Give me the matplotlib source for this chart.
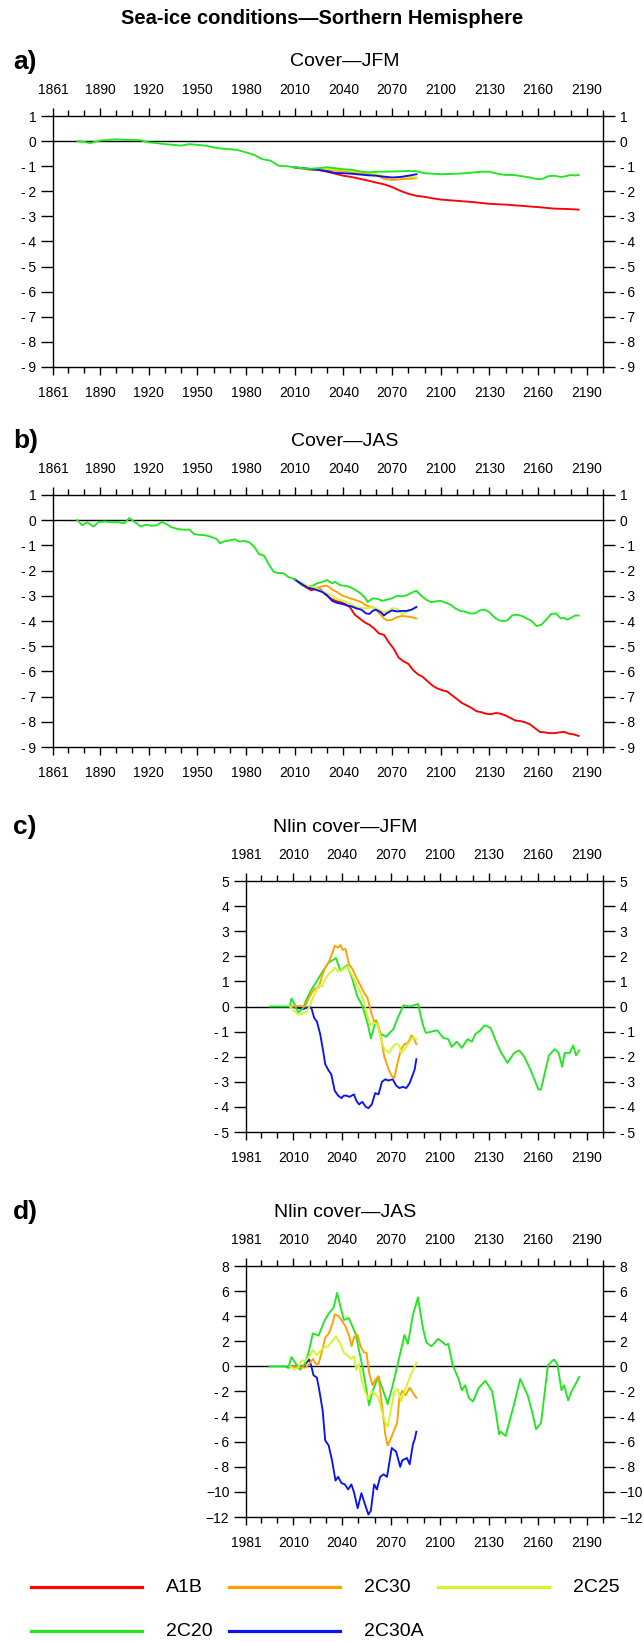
import matplotlib
matplotlib.use("Agg")
import matplotlib.pyplot as plt
from matplotlib.lines import Line2D
from matplotlib.ticker import FixedLocator

plt.rcParams['font.family'] = ['Liberation Sans', 'DejaVu Sans']

# ---------------- data ----------------
series_names = ["A1B", "2C30", "2C25", "2C20", "2C30A"]
series_colors = {"A1B": "#ff0000", "2C30": "#ffa000", "2C25": "#d4f52a",
                 "2C20": "#22e622", "2C30A": "#0a14f0"}

# Panel a: Cover - JFM
a_hist_years = [1876, 1880, 1884, 1890, 1895, 1900, 1905, 1910, 1915, 1920, 1925, 1930, 1935,
                1940, 1945, 1950, 1955, 1960, 1965, 1970, 1975, 1980, 1985, 1990, 1995, 2000,
                2005, 2010]
a_hist_vals = [0, -0.03, -0.08, 0.02, 0.05, 0.07, 0.05, 0.05, 0.03, -0.05, -0.08, -0.12, -0.15,
               -0.18, -0.12, -0.15, -0.18, -0.25, -0.3, -0.32, -0.36, -0.45, -0.55, -0.72, -0.78,
               -0.98, -1.0, -1.05]
a_2c20_years = [2010, 2015, 2020, 2025, 2030, 2035, 2040, 2045, 2050, 2055, 2060, 2065, 2070, 2075,
                2080, 2085, 2090, 2095, 2100, 2105, 2110, 2115, 2120, 2125, 2130, 2135, 2140, 2145,
                2150, 2155, 2160, 2163, 2166, 2170, 2174, 2177, 2180, 2183, 2185]
a_2c20_vals = [-1.05, -1.08, -1.1, -1.08, -1.04, -1.08, -1.12, -1.14, -1.2, -1.25, -1.22, -1.22,
               -1.21, -1.2, -1.19, -1.2, -1.28, -1.3, -1.32, -1.31, -1.3, -1.28, -1.25, -1.22,
               -1.22, -1.3, -1.35, -1.35, -1.4, -1.45, -1.52, -1.5, -1.4, -1.38, -1.43, -1.4,
               -1.35, -1.37, -1.35]
a_a1b_years = [2010, 2015, 2020, 2025, 2030, 2035, 2040, 2045, 2050, 2055, 2060, 2065, 2070, 2075,
               2080, 2085, 2090, 2095, 2100, 2110, 2120, 2130, 2140, 2150, 2160, 2170, 2180, 2185]
a_a1b_vals = [-1.05, -1.08, -1.12, -1.15, -1.22, -1.3, -1.38, -1.43, -1.5, -1.57, -1.65, -1.72,
              -1.83, -1.98, -2.1, -2.18, -2.22, -2.28, -2.33, -2.38, -2.43, -2.5, -2.53, -2.58,
              -2.63, -2.69, -2.71, -2.73]
a_short_years = [2010, 2015, 2020, 2025, 2030, 2035, 2040, 2045, 2050, 2055, 2060, 2065, 2070,
                 2075, 2080, 2085]
a_2c30a_vals = [-1.05, -1.08, -1.12, -1.15, -1.2, -1.27, -1.28, -1.3, -1.33, -1.36, -1.38, -1.42,
                -1.45, -1.43, -1.38, -1.32]
a_2c30_vals = [-1.05, -1.1, -1.15, -1.14, -1.15, -1.17, -1.2, -1.24, -1.28, -1.32, -1.35, -1.5,
               -1.55, -1.52, -1.5, -1.48]
a_2c25_vals = [-1.05, -1.08, -1.12, -1.1, -1.1, -1.12, -1.15, -1.18, -1.22, -1.26, -1.3, -1.4,
               -1.45, -1.43, -1.42, -1.45]

# Panel b: Cover - JAS
b_hist_years = [1876, 1879, 1882, 1886, 1889, 1893, 1897, 1901, 1905, 1908, 1912, 1915, 1918,
                1922, 1925, 1928, 1931, 1934, 1938, 1942, 1945, 1948, 1951, 1955, 1958, 1962,
                1964, 1966, 1970, 1973, 1976, 1979, 1982, 1985, 1988, 1991, 1994, 1997, 2000,
                2003, 2006, 2010]
b_hist_vals = [0, -0.2, -0.08, -0.25, -0.08, -0.05, -0.08, -0.08, -0.12, 0.08, -0.1, -0.25, -0.18,
               -0.22, -0.2, -0.07, -0.15, -0.28, -0.35, -0.38, -0.37, -0.55, -0.58, -0.6, -0.65,
               -0.75, -0.92, -0.85, -0.8, -0.76, -0.85, -0.82, -0.88, -1.05, -1.35, -1.4, -1.75,
               -2.05, -2.1, -2.1, -2.25, -2.35]
b_2c20_years = [2010, 2014, 2018, 2021, 2024, 2027, 2030, 2033, 2035, 2038, 2041, 2044, 2047,
                2050, 2053, 2055, 2058, 2061, 2064, 2067, 2070, 2073, 2076, 2079, 2083, 2085,
                2088, 2091, 2094, 2097, 2100, 2103, 2106, 2109, 2112, 2115, 2118, 2121, 2124,
                2127, 2130, 2133, 2136, 2139, 2141, 2144, 2147, 2150, 2153, 2156, 2159, 2162,
                2165, 2168, 2171, 2174, 2176, 2178, 2181, 2183, 2185]
b_2c20_vals = [-2.35, -2.55, -2.62, -2.6, -2.5, -2.45, -2.38, -2.5, -2.45, -2.58, -2.6, -2.65,
               -2.75, -2.88, -3.05, -3.25, -3.1, -3.12, -3.2, -3.15, -3.1, -3.0, -3.02, -2.98,
               -2.85, -2.8, -3.0, -3.15, -3.25, -3.22, -3.2, -3.28, -3.35, -3.5, -3.6, -3.63,
               -3.7, -3.7, -3.58, -3.55, -3.65, -3.85, -3.98, -4.0, -3.98, -3.78, -3.75, -3.8,
               -3.9, -4.0, -4.2, -4.15, -3.95, -3.72, -3.7, -3.9, -3.88, -3.95, -3.85, -3.78,
               -3.78]
b_a1b_years = [2010, 2014, 2018, 2020, 2023, 2026, 2029, 2032, 2035, 2038, 2041, 2044, 2047, 2050,
               2053, 2056, 2059, 2062, 2065, 2068, 2071, 2074, 2077, 2080, 2083, 2086, 2089, 2092,
               2095, 2098, 2101, 2104, 2107, 2110, 2113, 2116, 2119, 2122, 2125, 2128, 2131, 2134,
               2137, 2140, 2143, 2146, 2149, 2152, 2155, 2158, 2161, 2164, 2167, 2170, 2173, 2176,
               2179, 2182, 2185]
b_a1b_vals = [-2.35, -2.55, -2.7, -2.78, -2.72, -2.75, -2.95, -3.1, -3.2, -3.25, -3.32, -3.45,
              -3.75, -3.9, -4.05, -4.15, -4.3, -4.5, -4.55, -4.85, -5.1, -5.45, -5.6, -5.7,
              -5.95, -6.12, -6.22, -6.4, -6.57, -6.68, -6.75, -6.8, -6.95, -7.1, -7.25, -7.35,
              -7.45, -7.58, -7.62, -7.68, -7.7, -7.65, -7.68, -7.75, -7.85, -7.95, -7.97, -8.02,
              -8.1, -8.25, -8.4, -8.42, -8.45, -8.45, -8.42, -8.4, -8.47, -8.5, -8.56]
b_short_years = [2010, 2014, 2018, 2021, 2024, 2027, 2030, 2033, 2036, 2039, 2042, 2045, 2048,
                 2051, 2054, 2056, 2058, 2060, 2063, 2065, 2067, 2070, 2073, 2076, 2079, 2082, 2085]
b_2c30a_vals = [-2.35, -2.52, -2.68, -2.72, -2.78, -2.85, -2.98, -3.2, -3.28, -3.32, -3.38, -3.42,
                -3.5, -3.55, -3.7, -3.72, -3.6, -3.55, -3.65, -3.78, -3.68, -3.58, -3.62, -3.6,
                -3.6, -3.55, -3.44]
b_2c30_vals = [-2.35, -2.5, -2.68, -2.7, -2.68, -2.62, -2.6, -2.75, -2.85, -2.98, -3.05, -3.12,
               -3.18, -3.25, -3.38, -3.42, -3.45, -3.55, -3.75, -3.9, -3.98, -3.95, -3.85, -3.8,
               -3.82, -3.85, -3.9]
b_2c25_vals = [-2.35, -2.48, -2.6, -2.65, -2.72, -2.82, -2.9, -3.0, -3.12, -3.18, -3.25, -3.35,
               -3.45, -3.48, -3.5, -3.47, -3.45, -3.5, -3.6, -3.66, -3.62, -3.5, -3.5, -3.72,
               -3.65, -3.55, -3.5]

# Panel c: Nlin cover - JFM
c_2c20_years = [1995.5, 2007.9, 2008.9, 2010.6, 2013.1, 2016.2, 2018.2, 2020.9, 2023.4, 2027.6,
                2031.7, 2036.2, 2038.9, 2043.1, 2046.2, 2049.3, 2052.4, 2055.5, 2057.6, 2060.7,
                2063.8, 2066.9, 2071.4, 2074.1, 2077.6, 2081.4, 2086.5, 2089.6, 2091.3, 2094.8,
                2098.3, 2102.0, 2105.1, 2107.2, 2110.3, 2113.4, 2116.9, 2119.6, 2121.7, 2124.8,
                2127.3, 2131.0, 2135.1, 2137.2, 2141.4, 2145.5, 2148.6, 2151.7, 2155.4, 2160.4,
                2162.0, 2164.1, 2166.8, 2170.3, 2172.8, 2174.9, 2176.5, 2179.6, 2181.7, 2183.4,
                2185.4]
c_2c20_vals = [0, 0, 0.32, 0.1, -0.24, -0.05, 0.3, 0.65, 0.9, 1.35, 1.75, 1.93, 1.42, 1.65, 1.1,
               0.4, 0.03, -0.65, -1.27, -0.55, -1.1, -1.2, -0.9, -0.45, 0.05, 0.0, 0.1, -0.75,
               -1.05, -1.0, -0.95, -1.25, -1.3, -1.61, -1.4, -1.65, -1.3, -1.4, -1.1, -0.95,
               -0.75, -0.85, -1.5, -1.8, -2.25, -1.85, -1.75, -2.0, -2.5, -3.31, -3.3, -2.7,
               -1.95, -1.7, -1.85, -2.4, -1.85, -1.85, -1.55, -1.95, -1.75]
c_2c30_years = [2008.0, 2013.0, 2017.2, 2019.3, 2021.3, 2023.4, 2025.5, 2027.6, 2029.6, 2031.7,
                2033.8, 2035.4, 2037.5, 2038.9, 2040.4, 2042.0, 2044.1, 2046.2, 2048.7, 2050.7,
                2053.4, 2055.5, 2057.6, 2059.6, 2061.7, 2063.8, 2065.8, 2068.5, 2070.2, 2072.0,
                2074.1, 2076.2, 2078.2, 2080.3, 2082.6, 2084.5, 2085.5]
c_2c30_vals = [0, 0.02, 0.0, 0.3, 0.55, 0.72, 0.75, 1.2, 1.55, 1.75, 2.1, 2.42, 2.35, 2.45, 2.25,
               2.3, 1.7, 1.5, 1.15, 0.9, 0.55, 0.35, -0.2, -0.6, -0.65, -1.2, -2.0, -2.5, -2.75,
               -2.85, -2.2, -1.7, -1.5, -1.45, -1.15, -1.35, -1.5]
c_2c25_years = [2008.0, 2011.0, 2013.1, 2015.1, 2018.2, 2020.3, 2022.4, 2025.5, 2027.6, 2029.6,
                2031.7, 2033.8, 2035.4, 2037.5, 2040.0, 2043.1, 2045.1, 2047.2, 2049.3, 2051.3,
                2053.4, 2055.5, 2057.6, 2059.6, 2061.7, 2063.8, 2065.8, 2068.9, 2071.0, 2073.1,
                2075.1, 2076.2, 2078.2, 2080.3, 2082.9, 2085.5]
c_2c25_vals = [0, -0.2, -0.33, -0.3, -0.2, 0.05, 0.4, 0.85, 0.8, 1.1, 1.3, 1.4, 1.55, 1.4, 1.45,
               1.6, 1.35, 1.1, 0.8, 0.55, 0.2, -0.4, -0.75, -0.65, -0.7, -1.3, -1.7, -1.85, -1.6,
               -1.48, -1.55, -1.85, -1.7, -1.5, -1.25, -1.3]
c_2c30a_years = [2008.0, 2016.2, 2018.2, 2020.3, 2021.3, 2022.8, 2024.5, 2026.5, 2028.4, 2029.6,
                 2031.7, 2033.3, 2035.4, 2037.5, 2039.6, 2041.0, 2042.5, 2044.5, 2047.2, 2048.7,
                 2050.3, 2052.4, 2054.5, 2056.1, 2058.2, 2060.2, 2062.3, 2064.4, 2066.5, 2068.3,
                 2071.0, 2073.1, 2075.1, 2077.2, 2079.3, 2081.4, 2083.4, 2084.5, 2085.5]
c_2c30a_vals = [0, -0.1, -0.05, 0.0, -0.1, -0.45, -0.6, -1.1, -1.8, -2.3, -2.55, -2.7, -3.35,
                -3.55, -3.65, -3.55, -3.55, -3.6, -3.5, -3.75, -3.9, -3.8, -4.0, -4.05, -3.9,
                -3.45, -3.5, -3.0, -2.9, -2.95, -2.9, -3.15, -3.25, -3.2, -3.25, -3.05, -2.7,
                -2.5, -2.1]

# Panel d: Nlin cover - JAS
d_2c20_years = [1995.5, 2005.0, 2006.9, 2008.9, 2010.6, 2014.1, 2017.2, 2019.3, 2022.0, 2025.5,
                2029.2, 2031.7, 2034.8, 2036.9, 2041.0, 2044.1, 2048.2, 2050.3, 2052.4, 2056.5,
                2058.6, 2062.1, 2064.8, 2067.9, 2071.0, 2074.1, 2078.2, 2080.3, 2083.4, 2086.5,
                2089.6, 2091.7, 2094.8, 2098.9, 2103.7, 2105.1, 2107.8, 2111.4, 2113.4, 2115.5,
                2117.6, 2120.3, 2123.8, 2127.9, 2132.0, 2134.2, 2136.2, 2137.2, 2140.3, 2143.4,
                2145.5, 2149.2, 2153.8, 2156.5, 2158.9, 2162.0, 2166.2, 2169.9, 2172.0, 2174.5,
                2176.1, 2178.6, 2180.7, 2183.0, 2185.4]
d_2c20_vals = [0, 0, -0.13, 0.74, 0.4, -0.27, 0.2, 1.06, 2.63, 2.45, 3.65, 4.2, 4.7, 5.86, 3.7,
               3.85, 2.6, 1.3, 0.0, -3.1, -2.0, -0.8, -1.8, -3.0, -1.5, 0.2, 2.5, 1.8, 4.1, 5.5,
               3.0, 1.9, 1.6, 2.2, 1.7, 1.8, 0.1, -1.0, -1.9, -1.5, -2.5, -2.8, -1.7, -1.15,
               -2.0, -3.6, -5.4, -5.2, -5.55, -4.0, -3.0, -1.0, -2.3, -3.6, -5.0, -4.5, 0.1, 0.55,
               0.2, -1.9, -1.5, -2.7, -2.0, -1.45, -0.85]
d_2c30_years = [2008.0, 2017.2, 2019.3, 2022.0, 2023.8, 2025.5, 2027.6, 2029.6, 2031.7, 2033.8,
                2035.4, 2037.9, 2040.0, 2042.0, 2044.1, 2045.8, 2047.2, 2049.3, 2051.3, 2053.4,
                2054.9, 2056.5, 2058.6, 2060.2, 2062.3, 2064.8, 2066.5, 2067.9, 2070.0, 2072.1,
                2073.7, 2075.1, 2076.8, 2078.9, 2081.4, 2083.4, 2085.5]
d_2c30_vals = [0, -0.1, 0.1, 0.6, 0.2, 0.2, 1.2, 2.3, 2.6, 3.3, 4.15, 4.0, 3.6, 3.2, 2.5, 1.6,
               2.3, 2.55, 1.6, 1.1, 1.1, -0.5, -1.5, -1.1, -0.8, -3.5, -5.5, -6.3, -5.7, -5.0,
               -4.5, -2.5, -1.95, -2.3, -1.7, -2.1, -2.5]
d_2c25_years = [2008.0, 2011.0, 2013.1, 2015.1, 2017.2, 2019.3, 2022.0, 2024.5, 2026.5, 2028.6,
                2031.3, 2033.8, 2036.2, 2038.9, 2041.0, 2043.1, 2045.1, 2047.2, 2048.7, 2050.3,
                2052.0, 2054.0, 2056.1, 2058.2, 2060.2, 2062.3, 2064.4, 2066.5, 2067.9, 2070.0,
                2072.1, 2074.1, 2076.2, 2078.2, 2081.4, 2083.4, 2085.5]
d_2c25_vals = [0, -0.25, -0.1, 0.5, 0.4, 0.7, 1.3, 0.9, 1.2, 1.5, 1.6, 2.0, 2.4, 1.8, 1.1, 0.9,
               0.6, 0.8, -0.3, 0.2, -1.2, -2.0, -2.6, -2.0, -2.2, -2.5, -3.6, -4.5, -4.8, -3.4,
               -2.0, -1.8, -2.8, -2.0, -0.9, -0.3, 0.3]
d_2c30a_years = [2008.0, 2016.2, 2018.2, 2019.7, 2020.9, 2022.4, 2024.5, 2026.1, 2028.0, 2029.6,
                 2031.7, 2033.8, 2035.9, 2037.5, 2039.6, 2041.6, 2043.7, 2045.6, 2047.2, 2049.5,
                 2051.8, 2054.0, 2056.1, 2057.6, 2059.6, 2061.3, 2063.3, 2065.4, 2067.5, 2070.4,
                 2073.1, 2075.6, 2076.8, 2079.7, 2081.4, 2083.4, 2084.5, 2085.5]
d_2c30a_vals = [0, 0.0, 0.3, 0.55, 0.1, -0.7, -0.9, -2.0, -3.5, -5.9, -6.3, -7.5, -9.1, -8.8,
                -9.3, -9.4, -9.8, -9.4, -10.0, -11.3, -10.1, -11.0, -11.8, -11.5, -9.4, -9.8,
                -8.8, -8.6, -8.8, -6.5, -6.8, -8.0, -7.5, -7.3, -7.8, -6.2, -5.8, -5.2]

# tick labels
ab_major = [1861, 1890, 1920, 1950, 1980, 2010, 2040, 2070, 2100, 2130, 2160, 2190]
cd_major = [1981, 2010, 2040, 2070, 2100, 2130, 2160, 2190]
ab_yticks = [1, 0, -1, -2, -3, -4, -5, -6, -7, -8, -9]
c_yticks = [5, 4, 3, 2, 1, 0, -1, -2, -3, -4, -5]
d_yticks = [8, 6, 4, 2, 0, -2, -4, -6, -8, -10, -12]

panel_letters = ["a)", "b)", "c)", "d)"]
panel_titles = ["Cover\u2014JFM", "Cover\u2014JAS", "Nlin cover\u2014JFM", "Nlin cover\u2014JAS"]
main_title = "Sea-ice conditions\u2014Sorthern Hemisphere"

# ---------------- figure ----------------
W, H = 644, 1642
fig = plt.figure(figsize=(W / 100, H / 100), dpi=100)


def add_ax(left, top, right, bottom):
    return fig.add_axes([left / W, 1 - bottom / H, (right - left) / W, (bottom - top) / H])


def ylabel_text(v):
    if v >= 0:
        return str(v)
    if v > -10:
        return "-\u2009" + str(-v)
    return "\u2212" + str(-v)


def style(ax, x0, x1, majors, yticks, ylim):
    ax.set_xlim(x0, x1)
    ax.set_ylim(*ylim)
    minors = [y for y in range(majors[0] - majors[0] % 10 + 10, x1 + 1, 10) if y not in majors]
    ax.xaxis.set_major_locator(FixedLocator(majors))
    ax.xaxis.set_minor_locator(FixedLocator(minors))
    ax.set_xticklabels([str(m) for m in majors])
    ax.yaxis.set_major_locator(FixedLocator(yticks))
    ax.set_yticklabels([ylabel_text(v) for v in yticks])
    ax.tick_params(axis='x', which='major', direction='out', length=6, width=1.0,
                   top=True, labeltop=True, labelsize=10, pad=7.5)
    ax.tick_params(axis='x', which='minor', direction='out', length=4.2, width=1.0, top=True)
    ax.tick_params(axis='y', which='major', direction='out', length=8.4, width=1.0,
                   right=True, labelright=True, labelsize=10, pad=3.5)
    for s in ax.spines.values():
        s.set_linewidth(1.0)
    ax.axhline(0, color='black', lw=1.0, zorder=1)


lw = 1.35
c = series_colors
RIGHT = 603

axA = add_ax(53, 116, RIGHT, 367)
style(axA, 1861, 2200, ab_major, ab_yticks, (-9, 1))
axA.plot(a_a1b_years, a_a1b_vals, color=c["A1B"], lw=lw)
axA.plot(a_short_years, a_2c30_vals, color=c["2C30"], lw=lw)
axA.plot(a_short_years, a_2c25_vals, color=c["2C25"], lw=lw)
axA.plot(a_short_years, a_2c30a_vals, color=c["2C30A"], lw=lw)
axA.plot(a_2c20_years, a_2c20_vals, color=c["2C20"], lw=lw)
axA.plot(a_hist_years, a_hist_vals, color=c["2C20"], lw=lw)

axB = add_ax(53, 495, RIGHT, 747)
style(axB, 1861, 2200, ab_major, ab_yticks, (-9, 1))
axB.plot(b_a1b_years, b_a1b_vals, color=c["A1B"], lw=lw)
axB.plot(b_2c20_years, b_2c20_vals, color=c["2C20"], lw=lw)
axB.plot(b_short_years, b_2c30_vals, color=c["2C30"], lw=lw)
axB.plot(b_short_years, b_2c25_vals, color=c["2C25"], lw=lw)
axB.plot(b_short_years, b_2c30a_vals, color=c["2C30A"], lw=lw)
axB.plot(b_hist_years, b_hist_vals, color=c["2C20"], lw=lw)

axC = add_ax(246, 881, RIGHT, 1132)
style(axC, 1981, 2200, cd_major, c_yticks, (-5, 5))
axC.plot(c_2c30a_years, c_2c30a_vals, color=c["2C30A"], lw=lw)
axC.plot(c_2c20_years, c_2c20_vals, color=c["2C20"], lw=lw)
axC.plot(c_2c30_years, c_2c30_vals, color=c["2C30"], lw=lw)
axC.plot(c_2c25_years, c_2c25_vals, color=c["2C25"], lw=lw)

axD = add_ax(246, 1266, RIGHT, 1517)
style(axD, 1981, 2200, cd_major, d_yticks, (-12, 8))
axD.plot(d_2c30a_years, d_2c30a_vals, color=c["2C30A"], lw=lw)
axD.plot(d_2c20_years, d_2c20_vals, color=c["2C20"], lw=lw)
axD.plot(d_2c30_years, d_2c30_vals, color=c["2C30"], lw=lw)
axD.plot(d_2c25_years, d_2c25_vals, color=c["2C25"], lw=lw)

# titles
fig.text(322 / W, 1 - 18 / H, main_title, ha='center', va='center', fontsize=14.5,
         fontweight='bold')
for ax, letter, ttl in zip([axA, axB, axC, axD], panel_letters, panel_titles):
    top_px = (1 - ax.get_position().y1) * H
    ypx = top_px - 54
    fig.text(13 / W, 1 - ypx / H, letter, ha='left', va='center', fontsize=19,
             fontweight='bold')
    fig.text(345 / W, 1 - ypx / H, ttl, ha='center', va='center', fontsize=14)

# legend
legend_layout = [("A1B", 31, 1587), ("2C30", 229, 1587), ("2C25", 438, 1587),
                 ("2C20", 31, 1631), ("2C30A", 229, 1631)]
for name, x0, y in legend_layout:
    fig.add_artist(Line2D([x0 / W, (x0 + 111) / W], [1 - y / H, 1 - y / H],
                          color=c[name], lw=2.3, transform=fig.transFigure))
    fig.text((x0 + 135) / W, 1 - y / H, name, ha='left', va='center', fontsize=14)

fig.savefig("out.png", dpi=100)
